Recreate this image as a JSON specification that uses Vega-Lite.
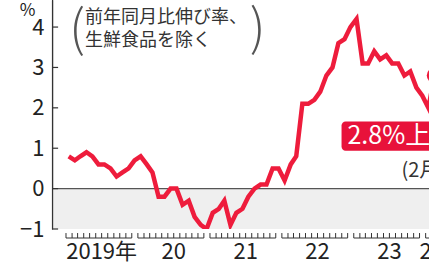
{
  "$schema": "https://vega.github.io/schema/vega-lite/v6.json",
  "width": 377,
  "height": 229,
  "autosize": {"type": "none"},
  "padding": {"left": 52, "top": 0, "right": 0, "bottom": 39},
  "config": {
    "view": {"stroke": null},
    "font": "Noto Sans CJK JP",
    "text": {"font": "Noto Sans CJK JP"},
    "axisX": {
      "domain": false, "grid": false, "labels": false, "ticks": false
    },
    "axisY": {
      "grid": false, "domain": true, "domainColor": "#333333", "domainWidth": 1.2, "ticks": false,
      "labelFontSize": 22, "labelColor": "#222222", "labelPadding": 8, "labelFont": "Noto Sans CJK JP"
    }
  },
  "datasets": {
    "cpi": [
      {"date": "2019/01/15", "v": 0.8}, {"date": "2019/02/15", "v": 0.7}, {"date": "2019/03/15", "v": 0.8}, {"date": "2019/04/15", "v": 0.9},
      {"date": "2019/05/15", "v": 0.8}, {"date": "2019/06/15", "v": 0.6}, {"date": "2019/07/15", "v": 0.6}, {"date": "2019/08/15", "v": 0.5},
      {"date": "2019/09/15", "v": 0.3}, {"date": "2019/10/15", "v": 0.4}, {"date": "2019/11/15", "v": 0.5}, {"date": "2019/12/15", "v": 0.7},
      {"date": "2020/01/15", "v": 0.8}, {"date": "2020/02/15", "v": 0.6}, {"date": "2020/03/15", "v": 0.4}, {"date": "2020/04/15", "v": -0.2},
      {"date": "2020/05/15", "v": -0.2}, {"date": "2020/06/15", "v": 0.0}, {"date": "2020/07/15", "v": 0.0}, {"date": "2020/08/15", "v": -0.4},
      {"date": "2020/09/15", "v": -0.3}, {"date": "2020/10/15", "v": -0.7}, {"date": "2020/11/15", "v": -0.9}, {"date": "2020/12/15", "v": -1.0},
      {"date": "2021/01/15", "v": -0.6}, {"date": "2021/02/15", "v": -0.5}, {"date": "2021/03/15", "v": -0.3}, {"date": "2021/04/15", "v": -0.9},
      {"date": "2021/05/15", "v": -0.6}, {"date": "2021/06/15", "v": -0.5}, {"date": "2021/07/15", "v": -0.2}, {"date": "2021/08/15", "v": 0.0},
      {"date": "2021/09/15", "v": 0.1}, {"date": "2021/10/15", "v": 0.1}, {"date": "2021/11/15", "v": 0.5}, {"date": "2021/12/15", "v": 0.5},
      {"date": "2022/01/15", "v": 0.2}, {"date": "2022/02/15", "v": 0.6}, {"date": "2022/03/15", "v": 0.8}, {"date": "2022/04/15", "v": 2.1},
      {"date": "2022/05/15", "v": 2.1}, {"date": "2022/06/15", "v": 2.2}, {"date": "2022/07/15", "v": 2.4}, {"date": "2022/08/15", "v": 2.8},
      {"date": "2022/09/15", "v": 3.0}, {"date": "2022/10/15", "v": 3.6}, {"date": "2022/11/15", "v": 3.7}, {"date": "2022/12/15", "v": 4.0},
      {"date": "2023/01/15", "v": 4.2}, {"date": "2023/02/15", "v": 3.1}, {"date": "2023/03/15", "v": 3.1}, {"date": "2023/04/15", "v": 3.4},
      {"date": "2023/05/15", "v": 3.2}, {"date": "2023/06/15", "v": 3.3}, {"date": "2023/07/15", "v": 3.1}, {"date": "2023/08/15", "v": 3.1},
      {"date": "2023/09/15", "v": 2.8}, {"date": "2023/10/15", "v": 2.9}, {"date": "2023/11/15", "v": 2.5}, {"date": "2023/12/15", "v": 2.3},
      {"date": "2024/01/15", "v": 2.0}, {"date": "2024/02/15", "v": 2.8}
    ],
    "yticks": [{"v": -1}, {"v": 0}, {"v": 1}, {"v": 2}, {"v": 3}, {"v": 4}],
    "years": [
      {"date": "2019/01/01", "end": "2019/12/01", "mid": "2019/07/01", "label": "2019年"},
      {"date": "2020/01/01", "end": "2020/12/01", "mid": "2020/07/01", "label": "20"},
      {"date": "2021/01/01", "end": "2021/12/01", "mid": "2021/07/01", "label": "21"},
      {"date": "2022/01/01", "end": "2022/12/01", "mid": "2022/07/01", "label": "22"},
      {"date": "2023/01/01", "end": "2023/12/01", "mid": "2023/07/01", "label": "23"},
      {"date": "2024/01/01", "end": "2024/12/01", "mid": "2024/02/01", "label": "24"}
    ],
    "notes": [
      {"date": "2019/04/07", "v": 4.45, "text": "前年同月比伸び率、\n生鮮食品を除く"}
    ],
    "parens": [
      {"date": "2019/02/26", "v": 3.9, "text": "("},
      {"date": "2021/08/31", "v": 3.93, "text": ")"}
    ],
    "callout": [
      {"date": "2022/10/31", "end": "2024/08/01", "top": 1.66, "bottom": 0.94, "tdate": "2022/11/30", "tv": 1.3, "text": "2.8%上昇"}
    ],
    "month": [
      {"date": "2023/08/31", "v": 0.44, "text": "(2月)"}
    ]
  },
  "layer": [
    {
      "data": {"values": [{}]},
      "mark": {"type": "rect", "color": "#efefef"},
      "encoding": {
        "x": {
          "datum": {"year": 2018, "month": 10, "date": 22}, "type": "temporal",
          "scale": {"domain": [{"year": 2018, "month": 10, "date": 22}, {"year": 2024, "month": 1, "date": 18}]},
          "axis": {"orient": "bottom", "domain": false, "grid": false, "labels": false, "ticks": false, "title": null}
        },
        "x2": {"datum": {"year": 2024, "month": 1, "date": 18}},
        "y": {
          "datum": 0, "type": "quantitative",
          "scale": {"domain": [-1, 4.67], "nice": false, "zero": false},
          "axis": {
            "values": [-1, 0, 1, 2, 3, 4], "domain": true, "domainColor": "#333333", "domainWidth": 1.2, "ticks": false,
            "title": "%", "titleAngle": 0, "titleX": -25, "titleY": 15, "titleAlign": "center", "titleBaseline": "alphabetic",
            "titleFontSize": 17, "titleFontWeight": "normal", "titleColor": "#222222", "titleFont": "Noto Sans CJK JP"
          }
        },
        "y2": {"datum": -1}
      }
    },
    {
      "data": {"values": [{}]},
      "mark": {"type": "rule", "color": "#555555", "strokeWidth": 1.3},
      "encoding": {
        "y": {"datum": 0, "type": "quantitative"}
      }
    },
    {
      "data": {"values": [{}]},
      "mark": {"type": "rect", "color": "#333333"},
      "encoding": {
        "x": {"datum": {"year": 2018, "month": 10, "date": 22}, "type": "temporal"},
        "x2": {"datum": {"year": 2018, "month": 10, "date": 28}},
        "y": {"datum": 4.67, "type": "quantitative"},
        "y2": {"datum": -1}
      }
    },
    {
      "data": {"name": "yticks"},
      "mark": {"type": "rule", "color": "#333333", "strokeWidth": 1.2},
      "encoding": {
        "x": {"datum": {"year": 2018, "month": 10, "date": 22}, "type": "temporal"},
        "x2": {"datum": {"year": 2018, "month": 11, "date": 22}},
        "y": {"field": "v", "type": "quantitative"}
      }
    },
    {
      "data": {"name": "years"},
      "mark": {"type": "rule", "color": "#333333", "strokeWidth": 1},
      "encoding": {
        "x": {"field": "date", "type": "temporal"},
        "x2": {"field": "end"},
        "y": {"datum": -1.223, "type": "quantitative"}
      }
    },
    {
      "data": {"name": "cpi"},
      "transform": [{"timeUnit": "yearmonth", "field": "date", "as": "month"}],
      "mark": {"type": "rule", "color": "#333333", "strokeWidth": 1},
      "encoding": {
        "x": {"field": "month", "type": "temporal"},
        "y": {"datum": -1.1, "type": "quantitative"},
        "y2": {"datum": -1.223}
      }
    },
    {
      "data": {"name": "cpi"},
      "mark": {"type": "line", "color": "#ee1c3c", "strokeWidth": 4.5, "clip": true},
      "encoding": {
        "x": {"field": "date", "type": "temporal"},
        "y": {"field": "v", "type": "quantitative"}
      }
    },
    {
      "data": {"name": "cpi"},
      "transform": [{"filter": "year(datum.date) == 2024 && month(datum.date) == 1"}],
      "mark": {"type": "point", "filled": true, "color": "#ee1c3c", "size": 240, "opacity": 1},
      "encoding": {
        "x": {"field": "date", "type": "temporal"},
        "y": {"field": "v", "type": "quantitative"}
      }
    },
    {
      "data": {"name": "callout"},
      "mark": {"type": "rect", "color": "#e8123a", "cornerRadius": 4},
      "encoding": {
        "x": {"field": "date", "type": "temporal"},
        "x2": {"field": "end"},
        "y": {"field": "top", "type": "quantitative"},
        "y2": {"field": "bottom"}
      }
    },
    {
      "data": {"name": "callout"},
      "mark": {"type": "text", "color": "#ffffff", "fontSize": 25, "align": "left", "baseline": "middle"},
      "encoding": {
        "x": {"field": "tdate", "type": "temporal"},
        "y": {"field": "tv", "type": "quantitative"},
        "text": {"field": "text"}
      }
    },
    {
      "data": {"name": "month"},
      "mark": {"type": "text", "color": "#333333", "fontSize": 20, "align": "left", "baseline": "middle"},
      "encoding": {
        "x": {"field": "date", "type": "temporal"},
        "y": {"field": "v", "type": "quantitative"},
        "text": {"field": "text"}
      }
    },
    {
      "data": {"name": "notes"},
      "mark": {"type": "text", "color": "#333333", "fontSize": 18, "align": "left", "baseline": "top", "lineBreak": "\n", "lineHeight": 23},
      "encoding": {
        "x": {"field": "date", "type": "temporal"},
        "y": {"field": "v", "type": "quantitative"},
        "text": {"field": "text"}
      }
    },
    {
      "data": {"name": "parens"},
      "mark": {"type": "text", "color": "#555555", "fontSize": 50, "fontWeight": 200, "align": "center", "baseline": "middle"},
      "encoding": {
        "x": {"field": "date", "type": "temporal"},
        "y": {"field": "v", "type": "quantitative"},
        "text": {"field": "text"}
      }
    },
    {
      "data": {"name": "years"},
      "mark": {"type": "text", "color": "#222222", "fontSize": 22, "align": "center", "baseline": "middle"},
      "encoding": {
        "x": {"field": "mid", "type": "temporal"},
        "y": {"datum": -1.57, "type": "quantitative"},
        "text": {"field": "label"}
      }
    }
  ]
}
